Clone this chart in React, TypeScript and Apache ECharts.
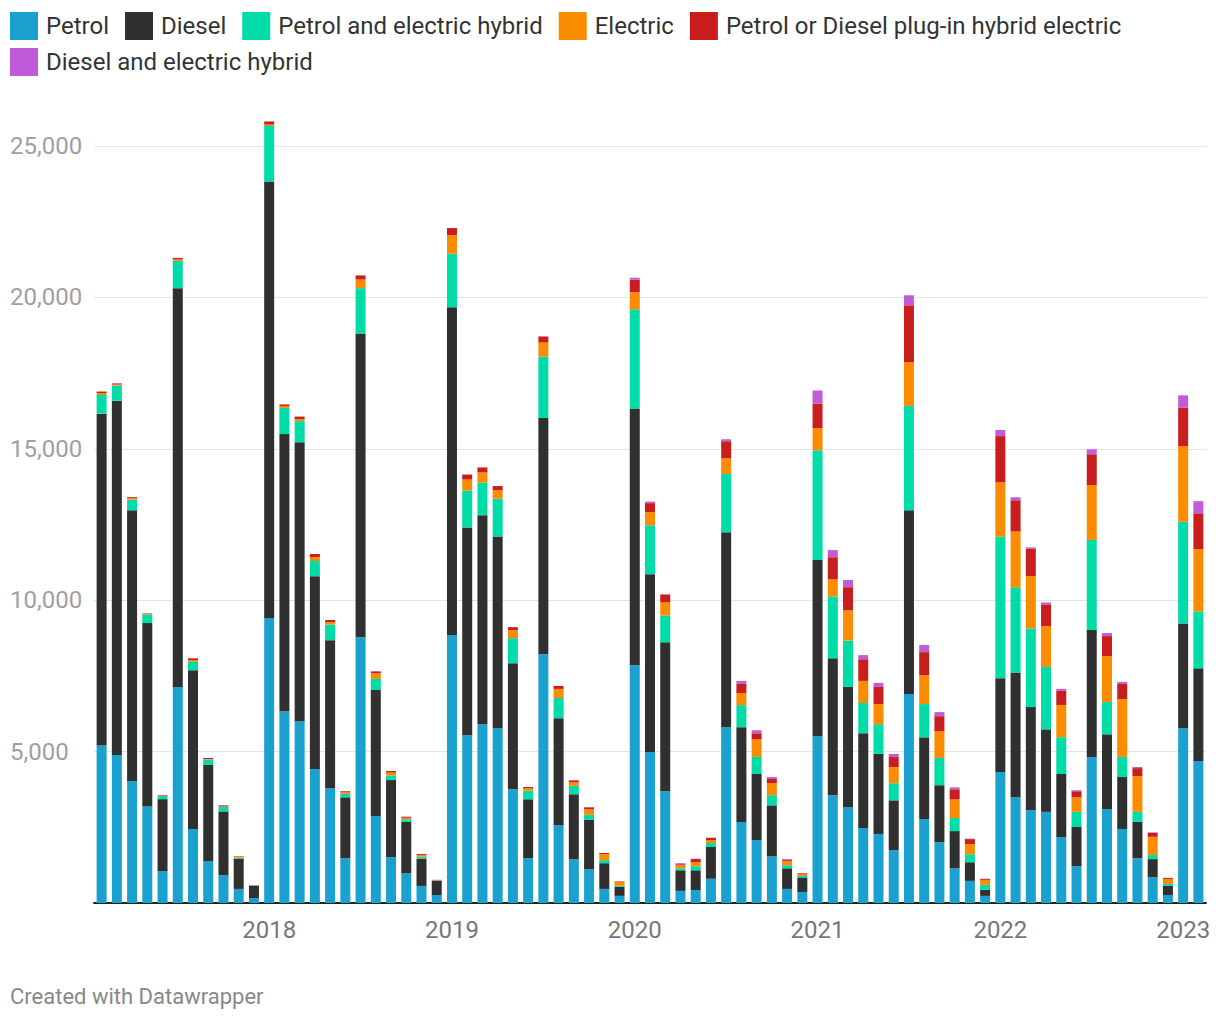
import React, { useEffect, useRef } from "react";
import * as echarts from "echarts";

// Months Feb 2017 .. Feb 2023
const months: string[] = [];
for (let y = 2017; y <= 2023; y++) {
  for (let m = 1; m <= 12; m++) {
    if ((y === 2017 && m < 2) || (y === 2023 && m > 2)) continue;
    months.push(`${y}-${String(m).padStart(2, "0")}`);
  }
}

const seriesNames = [
  "Petrol",
  "Diesel",
  "Petrol and electric hybrid",
  "Electric",
  "Petrol or Diesel plug-in hybrid electric",
  "Diesel and electric hybrid",
];

const colors = ["#1aa1ce", "#303030", "#00dca8", "#fb8c00", "#c81e1e", "#c15cd9"];

const petrol = [
  5200, 4890, 4020, 3190, 1050, 7130, 2445, 1380, 915, 465, 165, 9410,
  6335, 6000, 4425, 3790, 1480, 8780, 2875, 1515, 980, 565, 265, 8850,
  5540, 5905, 5770, 3760, 1480, 8215, 2580, 1445, 1115, 465, 235, 7850,
  4990, 3690, 400, 430, 800, 5805, 2675, 2080, 1545, 465, 365, 5505,
  3560, 3160, 2480, 2280, 1745, 6900, 2775, 2010, 1145, 730, 235, 4325,
  3490, 3060, 3010, 2180, 1215, 4825, 3095, 2445, 1480, 850, 265, 5770, 4690,
];

const diesel = [
  10960, 11700, 8950, 6055, 2380, 13175, 5240, 3180, 2110, 1000, 400, 14420,
  9150, 9215, 6370, 4890, 2010, 10030, 4160, 2545, 1700, 900, 465, 10825,
  6865, 6900, 6335, 4155, 1945, 7800, 3525, 2145, 1630, 850, 300, 8480,
  5870, 4925, 680, 650, 1050, 6435, 3130, 2180, 1680, 680, 480, 5820,
  4520, 3975, 3125, 2645, 1645, 6070, 2695, 1880, 1230, 615, 200, 3095,
  4125, 3410, 2725, 2080, 1295, 4190, 2475, 1715, 1200, 600, 300, 3460, 3060,
];

const petrolHybrid = [
  615, 500, 350, 285, 100, 900, 280, 180, 150, 33, 10, 1830,
  865, 700, 500, 515, 115, 1495, 365, 150, 85, 65, 10, 1765,
  1215, 1080, 1250, 830, 285, 2030, 665, 280, 165, 100, 35, 3275,
  1615, 880, 65, 135, 130, 1930, 730, 565, 335, 100, 50, 3625,
  2045, 1530, 1000, 980, 565, 3445, 1100, 900, 430, 265, 165, 4675,
  2810, 2595, 2060, 1215, 500, 2975, 1065, 665, 330, 135, 65, 3360, 1880,
];

const electric = [
  65, 35, 50, 15, 15, 50, 50, 15, 15, 33, 10, 50,
  65, 65, 130, 85, 50, 285, 185, 100, 50, 50, 10, 615,
  365, 335, 285, 265, 85, 465, 300, 115, 185, 200, 130, 565,
  430, 430, 100, 135, 100, 515, 400, 580, 400, 135, 50, 730,
  565, 1000, 730, 665, 530, 1445, 950, 880, 615, 335, 165, 1795,
  1845, 1730, 1350, 1065, 480, 1815, 1515, 1910, 1180, 600, 165, 2495, 2060,
];

const plugIn = [
  50, 35, 33, 18, 20, 50, 65, 35, 35, 15, 10, 100,
  50, 85, 100, 65, 35, 135, 65, 50, 35, 35, 15, 235,
  165, 165, 130, 100, 35, 200, 100, 65, 65, 35, 15, 415,
  300, 265, 35, 100, 65, 565, 300, 200, 135, 35, 35, 815,
  730, 765, 715, 565, 335, 1880, 765, 500, 335, 165, 35, 1530,
  1030, 900, 715, 465, 200, 1015, 665, 500, 265, 135, 35, 1280, 1180,
];

const dieselHybrid = [
  0, 0, 0, 0, 0, 0, 0, 0, 0, 0, 0, 0,
  0, 0, 0, 0, 0, 0, 0, 0, 0, 0, 0, 0,
  0, 0, 0, 0, 0, 0, 0, 0, 0, 0, 0, 65,
  50, 0, 35, 15, 15, 65, 100, 100, 65, 35, 0, 430,
  235, 235, 135, 135, 100, 330, 235, 135, 65, 15, 0, 200,
  100, 50, 65, 65, 35, 165, 100, 65, 35, 15, 0, 400, 400,
];

const allData = [petrol, diesel, petrolHybrid, electric, plugIn, dieselHybrid];

export default function App() {
  const ref = useRef<HTMLDivElement>(null);

  useEffect(() => {
    if (!ref.current) return;
    const chart = echarts.init(ref.current, null, { renderer: "svg" });
    const font = "Roboto, sans-serif";
    const legendText = { fontSize: 24, color: "#333", fontFamily: font, padding: [0, 0, 0, 3] };
    chart.setOption({
      animation: false,
      color: colors,
      legend: [
        {
          data: seriesNames.slice(0, 5),
          left: 10,
          top: 12,
          width: 1210,
          icon: "rect",
          itemWidth: 28,
          itemHeight: 28,
          itemGap: 16,
          padding: 0,
          selectedMode: false,
          textStyle: legendText,
        },
        {
          data: seriesNames.slice(5),
          left: 10,
          top: 48,
          icon: "rect",
          itemWidth: 28,
          itemHeight: 28,
          padding: 0,
          selectedMode: false,
          textStyle: legendText,
        },
      ],
      grid: { left: 94, right: 14, top: 146, bottom: 117, containLabel: false },
      xAxis: {
        type: "category",
        data: months,
        axisTick: { show: false },
        axisLine: { lineStyle: { color: "#222", width: 2 } },
        axisLabel: {
          interval: (i: number) => months[i].endsWith("-01"),
          formatter: (v: string) => v.slice(0, 4),
          fontSize: 24,
          color: "#777",
          fontFamily: font,
          margin: 15,
        },
      },
      yAxis: {
        type: "value",
        min: 0,
        max: 25000,
        interval: 5000,
        axisLine: { show: false },
        axisTick: { show: false },
        splitLine: { lineStyle: { color: "#e4e4e4", width: 1 } },
        axisLabel: {
          formatter: (v: number) => (v === 0 ? "" : v.toLocaleString("en-US")),
          fontSize: 24,
          color: "#a0a0a0",
          fontFamily: font,
          align: "left",
          margin: 84,
        },
      },
      series: seriesNames.map((name, i) => ({
        name,
        type: "bar",
        stack: "total",
        data: allData[i],
        barWidth: 10,
        clip: false,
        itemStyle: { color: colors[i] },
      })),
      graphic: [
        {
          type: "text",
          left: 10,
          top: 985,
          style: { text: "Created with Datawrapper", fontSize: 22, fill: "#888", fontFamily: font },
        },
      ],
    });
    return () => chart.dispose();
  }, []);

  return (
    <div
      ref={ref}
      style={{ position: "absolute", left: 0, top: 0, width: 1220, height: 1020 }}
    />
  );
}
